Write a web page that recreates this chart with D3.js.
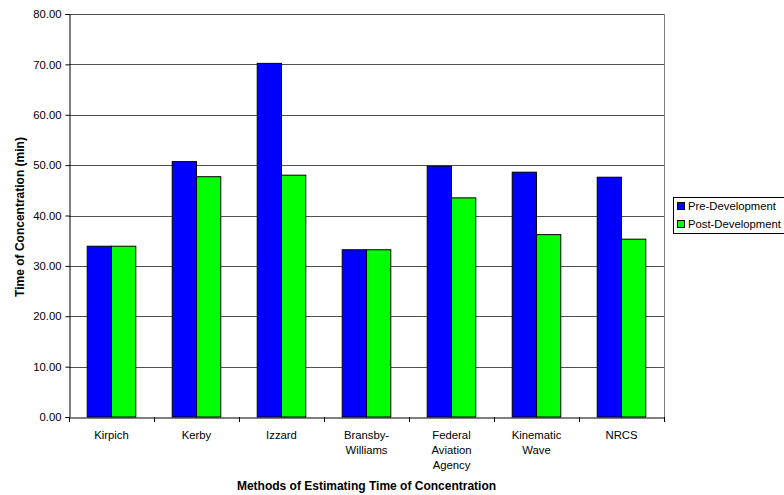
<!DOCTYPE html>
<html>
<head>
<meta charset="utf-8">
<script src="https://cdn.jsdelivr.net/npm/d3@7"></script>
<style>
  html, body { margin: 0; padding: 0; background: #fff; }
  svg { display: block; font-family: "Liberation Sans", Arial, sans-serif; }
</style>
</head>
<body>
<svg id="chart" width="784" height="495"></svg>
<script>
// Time of concentration by estimation method, before and after development
const categories = [
  ["Kirpich"],
  ["Kerby"],
  ["Izzard"],
  ["Bransby-", "Williams"],
  ["Federal", "Aviation", "Agency"],
  ["Kinematic", "Wave"],
  ["NRCS"]
];
const seriesNames = ["Pre-Development", "Post-Development"];
const preDevelopment  = [33.9, 50.7, 70.2, 33.2, 49.8, 48.6, 47.6];
const postDevelopment = [33.9, 47.7, 48.0, 33.2, 43.5, 36.2, 35.3];
const yTicks = [0, 10, 20, 30, 40, 50, 60, 70, 80];
const colors = ["#0000ff", "#00ff00"];

const labelSize = 11.3;
const titleSize = 12;

const svg = d3.select("#chart");
const plot = { left: 69, top: 14, right: 664, bottom: 417 };

const x = d3.scaleBand()
  .domain(d3.range(categories.length))
  .range([plot.left, plot.right])
  .paddingInner(0).paddingOuter(0);

const y = d3.scaleLinear().domain([0, 80]).range([plot.bottom, plot.top]);

// Bars take 2/(2+1.5) of each band, the rest is the gap between groups
const groupW = x.bandwidth() * 2 / 3.5;
const xs = d3.scaleBand().domain([0, 1]).range([0, groupW]);

// Horizontal gridlines
svg.append("g")
  .selectAll("line")
  .data(yTicks.filter(d => d > 0))
  .join("line")
  .attr("x1", plot.left).attr("x2", plot.right)
  .attr("y1", d => Math.round(y(d)) + 0.5).attr("y2", d => Math.round(y(d)) + 0.5)
  .attr("stroke", "#505050").attr("stroke-width", 1);

// Right border of the plot area
svg.append("line")
  .attr("x1", plot.right + 0.5).attr("x2", plot.right + 0.5)
  .attr("y1", plot.top).attr("y2", plot.bottom)
  .attr("stroke", "#808080");

// Bars
const data = [preDevelopment, postDevelopment];
const groups = svg.append("g")
  .selectAll("g")
  .data(categories.map((c, i) => i))
  .join("g")
  .attr("transform", i => `translate(${x(i) + (x.bandwidth() - groupW) / 2},0)`);

groups.selectAll("rect")
  .data(i => data.map((s, k) => ({ k, v: s[i] })))
  .join("rect")
  .attr("x", d => xs(d.k))
  .attr("width", xs.bandwidth())
  .attr("y", d => y(d.v))
  .attr("height", d => y(0) - y(d.v))
  .attr("fill", d => colors[d.k])
  .attr("stroke", "#000")
  .attr("stroke-width", 1);

// Y axis
const yAxis = svg.append("g")
  .attr("transform", `translate(${plot.left + 0.5},0)`)
  .call(d3.axisLeft(y).tickValues(yTicks).tickFormat(d3.format(".2f")).tickSize(4).tickPadding(4));
yAxis.select(".domain").attr("stroke", "#000");
yAxis.selectAll(".tick line").attr("stroke", "#000");
yAxis.selectAll("text").attr("font-size", labelSize).attr("fill", "#000")
  .attr("font-family", "Liberation Sans, Arial, sans-serif");

// X axis
const xAxis = svg.append("g")
  .attr("transform", `translate(0,${plot.bottom + 0.5})`)
  .call(d3.axisBottom(x).tickSize(0).tickFormat(""));
xAxis.select(".domain").attr("stroke", "#000");
svg.append("g")
  .selectAll("line")
  .data(d3.range(categories.length + 1))
  .join("line")
  .attr("x1", i => Math.round(plot.left + i * x.bandwidth()) + 0.5)
  .attr("x2", i => Math.round(plot.left + i * x.bandwidth()) + 0.5)
  .attr("y1", plot.bottom).attr("y2", plot.bottom + 5)
  .attr("stroke", "#000");

const xl = svg.append("g")
  .selectAll("text")
  .data(categories)
  .join("text")
  .attr("x", (c, i) => x(i) + x.bandwidth() / 2)
  .attr("y", 439)
  .attr("text-anchor", "middle")
  .attr("font-size", labelSize)
  .attr("fill", "#000");
xl.selectAll("tspan")
  .data(c => c)
  .join("tspan")
  .attr("x", function () { return this.parentNode.getAttribute("x"); })
  .attr("dy", (d, j) => j === 0 ? 0 : 15)
  .text(d => d);

// Axis titles
svg.append("text")
  .attr("x", (plot.left + plot.right) / 2).attr("y", 490)
  .attr("text-anchor", "middle")
  .attr("font-size", titleSize).attr("font-weight", "bold")
  .text("Methods of Estimating Time of Concentration");

svg.append("text")
  .attr("transform", `translate(23.5,217) rotate(-90)`)
  .attr("text-anchor", "middle")
  .attr("font-size", titleSize).attr("font-weight", "bold")
  .text("Time of Concentration (min)");

// Legend
const legend = svg.append("g");
legend.append("rect")
  .attr("x", 673.5).attr("y", 197.5).attr("width", 120).attr("height", 36)
  .attr("fill", "#fff").attr("stroke", "#000");
const li = legend.selectAll("g.item")
  .data(seriesNames)
  .join("g").attr("class", "item")
  .attr("transform", (d, i) => `translate(677,${202 + i * 18})`);
li.append("rect")
  .attr("x", 0.5).attr("y", 0.5).attr("width", 7).attr("height", 7)
  .attr("fill", (d, i) => colors[i]).attr("stroke", "#000");
li.append("text")
  .attr("x", 11).attr("y", 8)
  .attr("font-size", labelSize).attr("fill", "#000")
  .text(d => d);
</script>
</body>
</html>
